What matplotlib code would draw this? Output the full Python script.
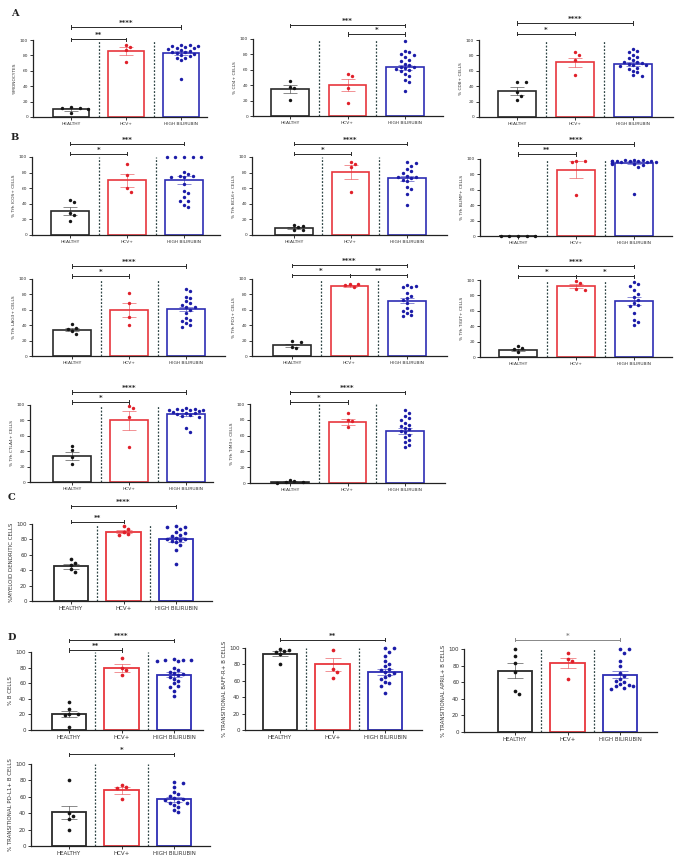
import matplotlib.pyplot as plt
import numpy as np

W, H = 678, 856
GROUPS = ['HEALTHY', 'HCV+', 'HIGH BILIRUBIN']
EDGE = ['#2a2a2a', '#e8363d', '#2d2db4']
DOT = ['#151515', '#e0202a', '#1c1ca8']

# ---- data: points per group, bar mean, SEM ----
a1_pts = [[13, 12, 12, 11, 5], [94, 91, 87, 72],
          [93, 93, 92, 92, 91, 90, 89, 88, 87, 86, 85, 84, 83, 82, 80, 79, 77, 76, 74, 50]]
a1_mean = [10, 86, 83]
a1_sem = [2, 5, 2.5]

a2_pts = [[46, 38, 36, 21], [55, 52, 37, 17],
          [97, 85, 83, 80, 79, 76, 73, 71, 68, 66, 64, 63, 62, 61, 60, 58, 55, 52, 47, 44, 33]]
a2_mean = [35, 40, 63]
a2_sem = [5, 8, 3.5]

a3_pts = [[46, 46, 32, 27, 22], [84, 80, 74, 54],
          [88, 86, 85, 80, 78, 76, 74, 72, 71, 70, 69, 68, 67, 66, 64, 62, 60, 58, 54, 53]]
a3_mean = [34, 71, 69]
a3_sem = [5, 6, 2.5]

b1_pts = [[45, 42, 28, 26, 18], [91, 77, 60, 55],
          [100, 100, 100, 100, 100, 81, 78, 76, 76, 75, 74, 66, 56, 54, 49, 44, 43, 38, 36]]
b1_mean = [31, 70, 71]
b1_sem = [5, 8, 5]

b2_pts = [[13, 12, 10, 7, 6], [93, 91, 87, 55],
          [93, 92, 89, 84, 82, 79, 76, 75, 74, 73, 71, 69, 62, 59, 53, 39]]
b2_mean = [9, 81, 72.5]
b2_sem = [1.5, 9, 3.5]

b3_pts = [[0.5, 0.5, 0.5, 0.5, 0.5], [98, 97, 96, 53],
          [99, 99, 99, 98, 98, 98, 97, 97, 97, 96, 96, 96, 95, 95, 94, 93, 92, 90, 55]]
b3_mean = [0.3, 86, 95]
b3_sem = [0, 11, 2]

b4_pts = [[41, 36, 35, 32, 28], [82, 69, 51, 40],
          [87, 84, 77, 75, 71, 69, 66, 64, 63, 60, 56, 49, 47, 45, 43, 40, 38]]
b4_mean = [34, 60, 61]
b4_sem = [2, 9, 3]

b5_pts = [[19, 18, 12, 10], [94, 93, 92, 90],
          [92, 91, 90, 89, 82, 78, 75, 73, 69, 62, 59, 58, 56, 53, 52]]
b5_mean = [14, 91, 72]
b5_sem = [2, 1, 3.5]

b6_pts = [[14, 12, 10, 7], [99, 96, 88, 87],
          [97, 95, 92, 87, 82, 78, 74, 70, 68, 66, 57, 48, 46, 42]]
b6_mean = [9, 92, 73]
b6_sem = [1.5, 3, 5]

b7_pts = [[47, 41, 32, 23], [99, 96, 85, 45],
          [96, 95, 95, 94, 94, 93, 93, 92, 91, 90, 89, 88, 87, 86, 85, 70, 65]]
b7_mean = [34, 80, 88]
b7_sem = [5, 12, 2]

b8_pts = [[4, 2, 1, 1, 0.5], [88, 80, 78, 71],
          [92, 88, 85, 82, 80, 76, 74, 72, 70, 68, 66, 64, 61, 58, 55, 52, 48, 45]]
b8_mean = [1.5, 77, 66]
b8_sem = [0.5, 4, 3.5]

c_pts = [[54, 49, 47, 41, 38], [98, 93, 89, 87, 86],
         [97, 96, 96, 93, 89, 88, 86, 84, 82, 81, 80, 79, 78, 76, 73, 66, 48]]
c_mean = [45, 90, 80]
c_sem = [3, 2, 3]

d1_pts = [[36, 27, 21, 20, 19, 4], [92, 80, 77, 70],
          [91, 90, 90, 90, 89, 88, 79, 77, 75, 73, 72, 70, 68, 66, 63, 60, 57, 55, 50, 44]]
d1_mean = [21, 80, 71]
d1_sem = [4, 5, 3.5]

d2_pts = [[99, 98, 96, 95, 93, 80], [98, 75, 71, 64],
          [100, 100, 95, 90, 84, 81, 78, 74, 73, 71, 69, 67, 65, 62, 59, 57, 54, 45]]
d2_mean = [93, 80, 71]
d2_sem = [3, 8, 3.5]

d3_pts = [[100, 92, 83, 72, 50, 46], [95, 88, 85, 64],
          [100, 100, 95, 86, 80, 71, 67, 64, 62, 60, 58, 57, 56, 55, 53, 52]]
d3_mean = [74, 83, 69]
d3_sem = [9, 6, 4]

d4_pts = [[80, 40, 37, 33, 20], [74, 72, 71, 57],
          [78, 77, 72, 66, 64, 61, 58, 57, 56, 54, 53, 52, 50, 48, 44, 42]]
d4_mean = [41, 68, 57]
d4_sem = [8, 4, 3]


def swarm(vals, ppu_y, s, d=4.6):
    # simple beeswarm offsets (in category units)
    order = np.argsort(vals)[::-1]
    placed = []
    offs = np.zeros(len(vals))
    for k in order:
        yp = vals[k] * ppu_y
        for step in [0, 1, -1, 2, -2, 3, -3, 4, -4, 5, -5]:
            xp = step * d * 0.95
            if all((xp - px) ** 2 + (yp - py) ** 2 >= d ** 2 for px, py in placed):
                break
        placed.append((xp, yp))
        offs[k] = xp / s
    return offs


def panel(fig, box, ylabel, pts, means, sems, brackets, big=False):
    left, right, c0, s, y100, y0 = box
    ax = fig.add_axes([left / W, 1 - y0 / H, (right - left) / W, (y0 - y100) / H])
    ax.set_xlim((left - c0) / s, (right - c0) / s)
    ax.set_ylim(0, 100)
    ppu = (y0 - y100) / 100.0
    for i in range(3):
        ax.bar(i, means[i], width=0.66, facecolor='white', edgecolor=EDGE[i],
               linewidth=1.3 if big else 1.2, zorder=2)
        xs = i + swarm(pts[i], ppu, s)
        ax.scatter(xs, pts[i], s=7 if big else 6, color=DOT[i], zorder=4,
                   linewidths=0, clip_on=False)
        ax.errorbar(i, means[i], yerr=sems[i], color=EDGE[i], alpha=0.55,
                    capsize=5.5 if big else 5, elinewidth=0.7, capthick=0.7, zorder=3)
    for xv in (0.5, 1.5):
        ax.plot([xv, xv], [0, 100], color='#2f4545', lw=0.9,
                linestyle=(0, (1.5, 1.3)), zorder=1)
    tick = 1.6 / ppu
    for i, j, lvl, stars, col in brackets:
        ax.plot([i, j], [lvl, lvl], color=col, lw=0.7, clip_on=False)
        for xe in (i, j):
            ax.plot([xe, xe], [lvl - tick, lvl + tick], color=col, lw=0.7, clip_on=False)
        ax.text((i + j) / 2, lvl + 1.0 / ppu, stars, ha='center', va='bottom',
                fontsize=5, color=col, fontweight='bold')
    for sp in ('top', 'right'):
        ax.spines[sp].set_visible(False)
    for sp in ('left', 'bottom'):
        ax.spines[sp].set_linewidth(0.9)
        ax.spines[sp].set_color('#222222')
    fs = 4.0 if big else 3.2
    ax.set_yticks([0, 20, 40, 60, 80, 100])
    ax.set_xticks([0, 1, 2])
    ax.set_xticklabels(GROUPS, fontsize=fs, color='#333333')
    ax.tick_params(axis='both', length=2, width=0.7, pad=1.5, labelsize=fs,
                   colors='#333333')
    ax.set_ylabel(ylabel, fontsize=fs, labelpad=2, color='#333333')
    return ax


fig = plt.figure(figsize=(W / 100, H / 100), dpi=100)

K = '#2a2a2a'
# layout boxes: (left px, right px, first centre px, spacing px, y of 100, y of 0)
panel(fig, (33, 207, 71, 55, 40, 117), '%MONOCYTES', a1_pts, a1_mean, a1_sem,
      [(0, 2, 117, '****', K), (0, 1, 101, '**', K)])
panel(fig, (253, 443, 290, 57.5, 39, 116), '% CD4+ CELLS', a2_pts, a2_mean, a2_sem,
      [(0, 2, 118, '***', K), (1, 2, 106.5, '*', K)])
panel(fig, (479, 673, 517, 58, 40, 117), '% CD8+ CELLS', a3_pts, a3_mean, a3_sem,
      [(0, 2, 122, '****', K), (0, 1, 108, '*', K)])

panel(fig, (32, 220, 70, 57, 157, 235), '% Tfh ICOS+ CELLS', b1_pts, b1_mean, b1_sem,
      [(0, 2, 117, '***', K), (0, 1, 104, '*', K)])
panel(fig, (252, 447, 294, 56.5, 157, 235), '% Tfh BCL6+ CELLS', b2_pts, b2_mean, b2_sem,
      [(0, 2, 117, '****', K), (0, 1, 104, '*', K)])
panel(fig, (480, 672, 518, 58, 159, 236), '% Tfh BLIMP+ CELLS', b3_pts, b3_mean, b3_sem,
      [(0, 2, 119.5, '****', K), (0, 1, 106.5, '**', K)])

panel(fig, (32, 225, 72, 57, 279, 356), '% Tfh LAG3+ CELLS', b4_pts, b4_mean, b4_sem,
      [(0, 2, 117, '****', K), (0, 1, 104, '*', K)])
panel(fig, (252, 447, 292, 57.5, 279, 356), '% Tfh PD1+ CELLS', b5_pts, b5_mean, b5_sem,
      [(0, 2, 118, '****', K), (0, 1, 105, '*', K), (1, 2, 105, '**', K)])
panel(fig, (480, 672, 518, 58, 280, 357), '% Tfh TIGIT+ CELLS', b6_pts, b6_mean, b6_sem,
      [(0, 2, 118, '****', K), (0, 1, 105, '*', K), (1, 2, 105, '*', K)])

panel(fig, (30, 213, 72, 57, 405, 482), '% Tfh CTLA4+ CELLS', b7_pts, b7_mean, b7_sem,
      [(0, 2, 117, '****', K), (0, 1, 104, '*', K)])
panel(fig, (250, 445, 290, 57.5, 404, 483), '% Tfh TIM3+ CELLS', b8_pts, b8_mean, b8_sem,
      [(0, 2, 115, '****', K), (0, 1, 102.5, '*', K)])

panel(fig, (32, 212, 71, 52.5, 524, 601), '%MYELOID DENDRITIC CELLS', c_pts, c_mean, c_sem,
      [(0, 2, 123, '****', K), (0, 1, 103, '**', K)], big=True)

panel(fig, (31, 203, 69, 52.5, 652, 730), '% B CELLS', d1_pts, d1_mean, d1_sem,
      [(0, 2, 115, '****', K), (0, 1, 102.5, '**', K)], big=True)
panel(fig, (245, 422, 280, 52.5, 648, 730), '% TRANSITIONAL BAFF-R+ B CELLS',
      d2_pts, d2_mean, d2_sem, [(0, 2, 110, '**', K)], big=True)
panel(fig, (464, 657, 515, 52.5, 649, 732), '% TRANSITIONAL APRIL+ B CELLS',
      d3_pts, d3_mean, d3_sem, [(0, 2, 111, '*', '#888888')], big=True)
panel(fig, (31, 210, 69, 52.5, 764, 846), '% TRANSITIONAL PD-L1+ B CELLS',
      d4_pts, d4_mean, d4_sem, [(0, 2, 112, '*', K)], big=True)

for lab, x, y in [('A', 15, 13), ('B', 15, 137), ('C', 11, 497), ('D', 12, 638)]:
    fig.text(x / W, 1 - y / H, lab, fontsize=7, fontweight='bold', family='serif',
             ha='center', va='center', color='#222222')

fig.savefig('out.png', dpi=100)
